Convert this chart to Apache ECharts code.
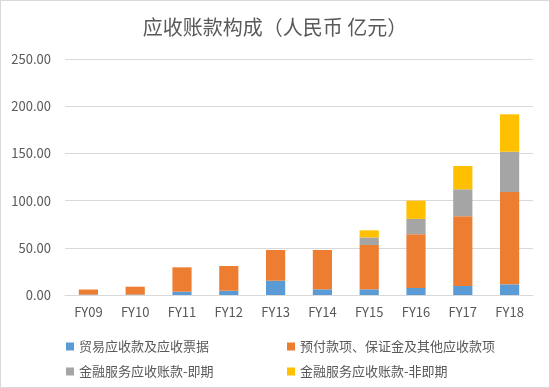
<!DOCTYPE html>
<html><head><meta charset="utf-8">
<script src="https://cdn.jsdelivr.net/npm/echarts@6/dist/echarts.min.js"></script>
<style>html,body{margin:0;padding:0;background:#fff}#c{width:548px;height:386px;border:1px solid #d9d9d9}</style>
</head><body><div id="c"></div>
<script>
const categories = ['FY09','FY10','FY11','FY12','FY13','FY14','FY15','FY16','FY17','FY18'];
const seriesNames = ['贸易应收款及应收票据','预付款项、保证金及其他应收款项','金融服务应收账款-即期','金融服务应收账款-非即期'];
const tradeReceivables = [0.5, 0.5, 3.5, 4.5, 15.1, 6.0, 6.0, 7.4, 9.5, 11.3];
const prepayments = [5.3, 8.3, 25.8, 26.2, 32.6, 41.7, 47.0, 57.0, 74.0, 97.8];
const finCurrent = [0, 0, 0, 0, 0, 0, 8.0, 16.2, 28.5, 42.7];
const finNonCurrent = [0, 0, 0, 0, 0, 0, 7.5, 19.4, 24.7, 39.6];
const yTicks = {min: 0, max: 250, interval: 50};
const colors = ['#5B9BD5','#ED7D31','#A5A5A5','#FFC000'];
const dataArr = [tradeReceivables, prepayments, finCurrent, finNonCurrent];

const chart = echarts.init(document.getElementById('c'), null, {renderer:'canvas'});
const legendPos = [[60,334],[281,334],[60,359],[281,359]];
chart.setOption({
  animation:false,
  title:{text:'应收账款构成（人民币 亿元）',left:'center',top:11,
    textStyle:{fontSize:20,fontWeight:'normal',color:'#595959',fontFamily:'"Noto Sans CJK SC",sans-serif'}},
  grid:{left:64,right:16,top:58,bottom:92},
  xAxis:{type:'category',data:categories,
    axisLine:{lineStyle:{color:'#d9d9d9'}},axisTick:{show:false},
    axisLabel:{color:'#595959',fontSize:13,margin:11,fontFamily:'"Noto Sans CJK SC",sans-serif'}},
  yAxis:{type:'value',min:yTicks.min,max:yTicks.max,interval:yTicks.interval,
    axisLine:{show:false},axisTick:{show:false},
    splitLine:{lineStyle:{color:'#d9d9d9'}},
    axisLabel:{color:'#595959',fontSize:13,margin:14,formatter:v=>v.toFixed(2),fontFamily:'"Noto Sans CJK SC",sans-serif'}},
  legend: seriesNames.map((n,i)=>({data:[n],left:legendPos[i][0],top:legendPos[i][1],
    itemWidth:8,itemHeight:8,itemGap:4,icon:'rect',
    textStyle:{color:'#595959',fontSize:13,fontFamily:'"Noto Sans CJK SC",sans-serif'}})),
  series: seriesNames.map((n,i)=>({name:n,type:'bar',stack:'a',barWidth:'41%',
    itemStyle:{color:colors[i]},data:dataArr[i]}))
});
</script></body></html>
